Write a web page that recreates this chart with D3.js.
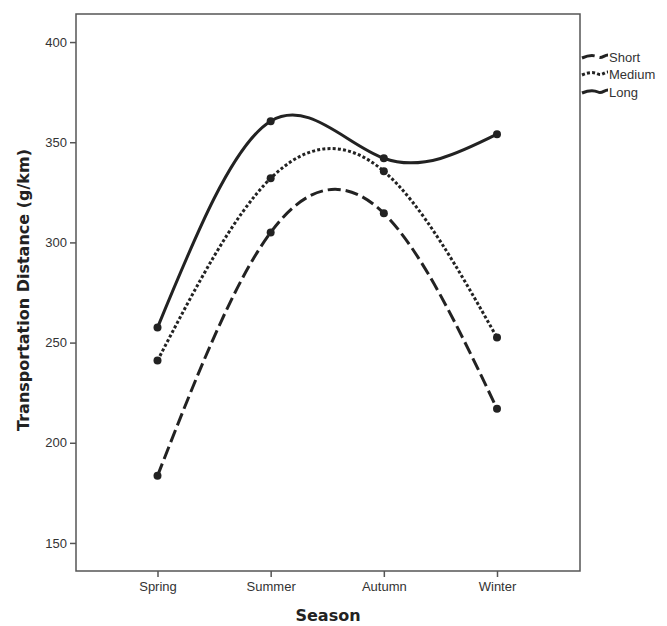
<!DOCTYPE html>
<html>
<head>
<meta charset="utf-8">
<script src="https://cdn.jsdelivr.net/npm/d3@7"></script>
<style>
  body { margin: 0; background: #fff; }
  .tick text { font-family: "Liberation Sans", Arial, sans-serif; font-size: 13px; fill: #333; }
  .axisTitle { font-family: "DejaVu Sans", sans-serif; font-weight: bold; font-size: 16px; fill: #222; }
  .legendText { font-family: "Liberation Sans", Arial, sans-serif; font-size: 13px; fill: #333; }
</style>
</head>
<body>
<svg id="chart" width="667" height="626"></svg>
<script>
// -- data -- //
let seasons = ["Spring", "Summer", "Autumn", "Winter"];
let seriesNames = ["Short", "Medium", "Long"];
let shortValues = [183.5, 305, 314.5, 217];
let mediumValues = [241, 332, 335.5, 252.5];
let longValues = [257.5, 360.5, 342, 354];
let yTicks = [150, 200, 250, 300, 350, 400];

let seriesValues = [shortValues, mediumValues, longValues];
let dashes = ["13,5", "3,2.2", null];

let svg = d3.select("#chart");
let plotLeft = 76, plotRight = 580, plotTop = 14, plotBottom = 571;

let xScale = d3.scalePoint().domain(seasons).range([157.5, 497]);
let yScale = d3.scaleLinear().domain([136, 414]).range([plotBottom, plotTop]);

// -- frame -- //
svg.append("rect")
  .attr("x", plotLeft).attr("y", plotTop)
  .attr("width", plotRight - plotLeft).attr("height", plotBottom - plotTop)
  .style("fill", "none").style("stroke", "#555").style("stroke-width", 1.5);

// -- axes -- //
let xAxis = d3.axisBottom(xScale).tickSize(6).tickPadding(5);
let yAxis = d3.axisLeft(yScale).tickValues(yTicks).tickSize(6).tickPadding(3);

let gx = svg.append("g").attr("transform", `translate(0, ${plotBottom})`).call(xAxis);
let gy = svg.append("g").attr("transform", `translate(${plotLeft}, 0)`).call(yAxis);
[gx, gy].forEach(g => {
  g.select(".domain").remove();
  g.selectAll(".tick line").style("stroke", "#555").style("stroke-width", 1.5);
});

// -- axis titles -- //
svg.append("text").attr("class", "axisTitle")
  .attr("x", 328).attr("y", 621)
  .attr("text-anchor", "middle")
  .text("Season");
svg.append("text").attr("class", "axisTitle")
  .attr("transform", "translate(29, 290) rotate(-90)")
  .attr("text-anchor", "middle")
  .text("Transportation Distance (g/km)");

// -- lines and points -- //
let line = d3.line()
  .x((d, i) => xScale(seasons[i]))
  .y(d => yScale(d))
  .curve(d3.curveNatural);

seriesValues.forEach((vals, k) => {
  svg.append("path")
    .attr("d", line(vals))
    .style("fill", "none")
    .style("stroke", "#222")
    .style("stroke-width", 3)
    .style("stroke-dasharray", dashes[k]);
  svg.selectAll(".pt" + k)
    .data(vals)
    .enter()
    .append("circle")
    .attr("class", "pt" + k)
    .attr("cx", (d, i) => xScale(seasons[i]))
    .attr("cy", d => yScale(d))
    .attr("r", 4)
    .style("fill", "#222");
});

// -- legend -- //
let legendY = [57, 74, 92];
seriesNames.forEach((name, k) => {
  let y = legendY[k];
  svg.append("path")
    .attr("d", `M582,${y + 1} C589,${y - 2} 594,${y - 2} 598,${y} S604,${y - 2} 608,${y - 2}`)
    .style("fill", "none")
    .style("stroke", "#222")
    .style("stroke-width", 3)
    .style("stroke-dasharray", dashes[k]);
  svg.append("text").attr("class", "legendText")
    .attr("x", 609).attr("y", y + 5)
    .text(name);
});
</script>
</body>
</html>
